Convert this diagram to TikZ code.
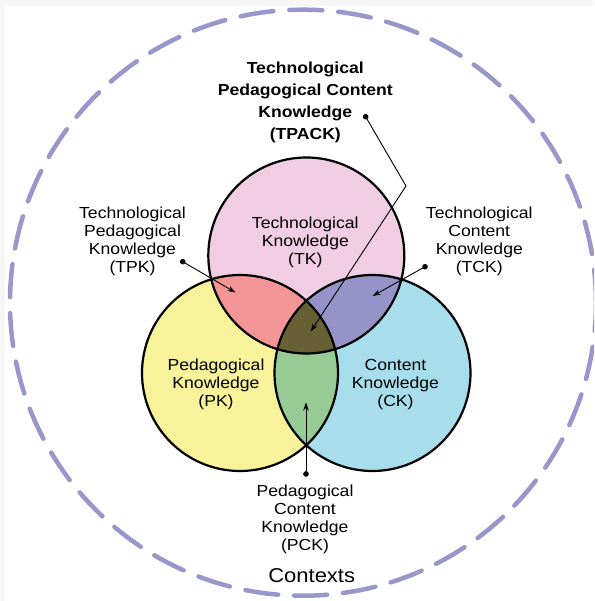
\documentclass[tikz,border=0pt]{standalone}
\usepackage{fontspec}
\setmainfont{Liberation Sans}[FakeStretch=1.1]
\usetikzlibrary{arrows.meta,positioning}
\definecolor{framegray}{HTML}{F7F7F7}
\definecolor{ctxring}{HTML}{9896CB}
\definecolor{tkpink}{HTML}{F0CDE2}
\definecolor{pkyellow}{HTML}{F8F29A}
\definecolor{ckblue}{HTML}{A8DEEB}
\definecolor{tpkred}{HTML}{F39596}
\definecolor{tckpurple}{HTML}{9593C7}
\definecolor{pckgreen}{HTML}{96CB96}
\definecolor{tpackolive}{HTML}{666034}
\tikzset{lbl/.style={align=center, inner sep=0pt, font=\fontsize{16}{18}\selectfont}, % plain labels
pointer/.style={line width=0.9pt, {Circle[length=5.5pt]}-{Stealth[length=8pt,width=5.5pt]}}, % dot to arrow head
rim/.style={draw=black, line width=2.2pt}, % outline of each knowledge circle
}

\begin{document}
\begin{tikzpicture}[x=1pt, y=-1pt,
	ring/.style={draw=ctxring, line width=4.5pt, line cap=round, dash pattern=on 33pt off 16pt}]
\useasboundingbox (0,0) rectangle (594,601);
\fill[framegray] (0,0) rectangle (594,601);
\fill[white] (4.5,6.5) rectangle (594,601);
\coordinate (ctx) at (303,302.7);
\coordinate (t) at (306.3,255.5);
\coordinate (p) at (240,373);
\coordinate (c) at (372.5,373);
% contexts ring
\begin{scope}
\clip (0,0) rectangle (594,601);
\draw[ring] (ctx) circle (293pt);
\end{scope}
% the three circles and their overlaps
\fill[tkpink] (t) circle (98pt);
\fill[pkyellow] (p) circle (98pt);
\fill[ckblue] (c) circle (98pt);
\begin{scope}
\clip (t) circle (98pt);
\fill[tpkred] (p) circle (98pt);
\fill[tckpurple] (c) circle (98pt);
\end{scope}
\begin{scope}
\clip (p) circle (98pt);
\fill[pckgreen] (c) circle (98pt);
\end{scope}
\begin{scope}
\clip (t) circle (98pt);
\clip (p) circle (98pt);
\fill[tpackolive] (c) circle (98pt);
\end{scope}
\draw[rim] (t) circle (98pt) (p) circle (98pt) (c) circle (98pt);
% labels
\node[lbl] (tk) at (305.3,242) {Technological\\Knowledge\\(TK)};
\node[lbl] (pk) at (216,384.5) {Pedagogical\\Knowledge\\(PK)};
\node[lbl] (ck) at (395.5,384.5) {Content\\Knowledge\\(CK)};
\node[lbl] (tpk) at (132.5,241) {Technological\\Pedagogical\\Knowledge\\(TPK)};
\node[lbl] (tck) at (479.3,241) {Technological\\Content\\Knowledge\\(TCK)};
\node[lbl] (pck) at (305,519.5) {Pedagogical\\Content\\Knowledge\\(PCK)};
\node[lbl, font=\bfseries\fontsize{16}{22}\selectfont] (tpack) at (305.3,102) {Technological\\Pedagogical Content\\Knowledge\\(TPACK)};
\node[inner sep=0pt, font=\fontsize{20}{24}\selectfont] (contexts) at (311.7,576) {Contexts};
% pointers
\coordinate (tpackdot) at (364.3,114.4);
\coordinate (tpackbend) at (406,186);
\coordinate (tpacktip) at (310.7,331.5);
\coordinate (tpkdot) at (180.4,260.3);
\coordinate (tpktip) at (235.5,292.5);
\coordinate (tckdot) at (427.4,265.4);
\coordinate (tcktip) at (372.7,296);
\coordinate (pckdot) at (306,476.7);
\coordinate (pcktip) at (306,402.5);
\draw[pointer] (tpackdot) -- (tpackbend) -- (tpacktip);
\draw[pointer] (tpkdot) -- (tpktip);
\draw[pointer] (tckdot) -- (tcktip);
\draw[pointer] (pckdot) -- (pcktip);
\end{tikzpicture}
\end{document}
